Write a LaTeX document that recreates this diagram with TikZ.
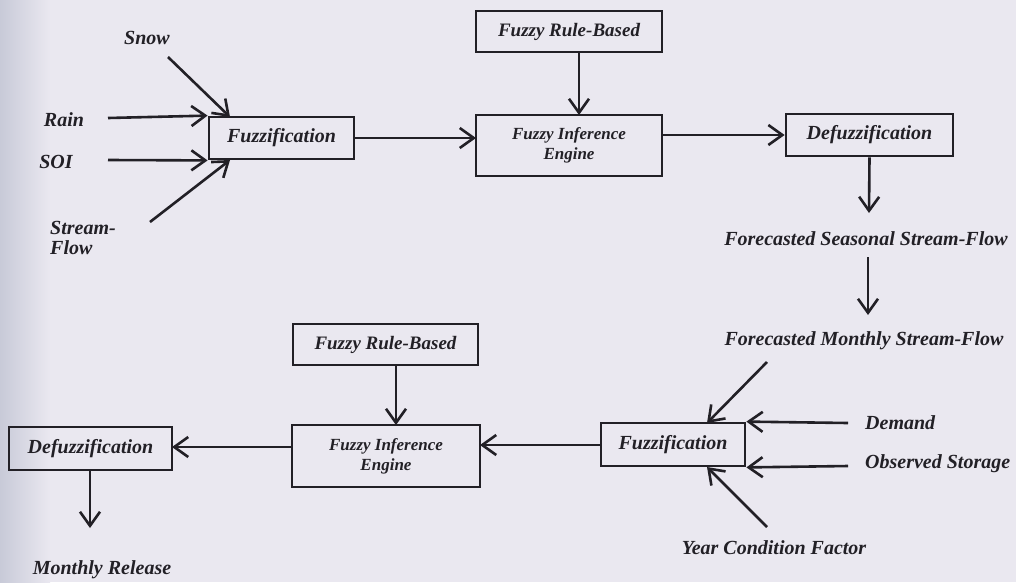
\documentclass[tikz,border=0pt]{standalone}
\usepackage{fontspec}
\setmainfont{Liberation Serif}
\usetikzlibrary{arrows.meta,calc}
\definecolor{bg}{RGB}{234,232,240}
\definecolor{edge}{RGB}{200,202,216}
\definecolor{ink}{RGB}{34,32,38}
\begin{document}
\begin{tikzpicture}[x=1pt,y=-1pt,
  box/.style={draw=ink, line width=2.8pt, inner sep=0pt, text=ink,
    font=\fontsize{20}{22}\selectfont\bfseries\itshape},
  ibox/.style={box, align=center, font=\fontsize{17}{20}\selectfont\bfseries\itshape},
  lab/.style={inner sep=0pt, text=ink, font=\fontsize{20}{22}\selectfont\bfseries\itshape},
  arr/.style={draw=ink, line width=2.6pt,
    -{Straight Barb[length=14pt,width=20pt,line width=2.6pt]}}]
\fill[bg] (0,0) rectangle (1016,582);
\shade[left color=edge, right color=bg] (0,0) rectangle (50,582);
\useasboundingbox (0,0) rectangle (1016,582);

% ---------- upper chain ----------
\node[box, minimum width=145pt, minimum height=42pt] (fuzzA) at (281.5,138) {Fuzzification};
\node[box, minimum width=186pt, minimum height=41pt, font=\fontsize{19}{21}\selectfont\bfseries\itshape] (rulA) at (569,31.5) {Fuzzy Rule-Based};
\node[ibox, minimum width=186pt, minimum height=61pt] (infA) at (569,145.5) {Fuzzy Inference\\Engine};
\node[box, minimum width=167pt, minimum height=42pt] (defA) at (869.5,135) {Defuzzification};

\node[lab] (snow) at (147,38) {Snow};
\node[lab] (rain) at (64,120) {Rain};
\node[lab] (soi) at (56,162) {SOI};
\node[lab, align=left, anchor=west, font=\fontsize{20}{20}\selectfont\bfseries\itshape] (stream) at (50,238) {Stream-\\Flow};
\node[lab] (seas) at (866,239) {Forecasted Seasonal Stream-Flow};
\node[lab] (mon) at (864,341) {Forecasted Monthly Stream-Flow};

\coordinate (snowS) at (168,57);
\coordinate (snowE) at (230,117);
\coordinate (rainS) at (108,118);
\coordinate (soiS) at (108,160);
\coordinate (strS) at (150,222);
\coordinate (strE) at (230,160);
\coordinate (fiA) at (476,138);
\coordinate (frA) at (579,52);
\coordinate (frAe) at (579,115);
\coordinate (ifA) at (662,135);
\coordinate (seasE) at (869,213);
\coordinate (seasS) at (868,257);
\coordinate (monE) at (868,315);

\draw[arr] (snowS) -- (snowE);
\draw[arr] (rainS) -- (fuzzA.north west);
\draw[arr] (soiS) -- (fuzzA.south west);
\draw[arr] (strS) -- (strE);
\draw[arr] (fuzzA.east) -- (fiA);
\draw[arr] (frA) -- (frAe);
\draw[arr] (ifA) -- (defA.west);
\draw[arr] (defA.south) -- (seasE);
\draw[arr] (seasS) -- (monE);

% ---------- lower chain ----------
\node[box, minimum width=144pt, minimum height=43pt] (fuzzB) at (673,444.5) {Fuzzification};
\node[box, minimum width=185pt, minimum height=41pt, font=\fontsize{19}{21}\selectfont\bfseries\itshape] (rulB) at (385.5,344.5) {Fuzzy Rule-Based};
\node[ibox, minimum width=188pt, minimum height=62pt] (infB) at (386,456) {Fuzzy Inference\\Engine};
\node[box, minimum width=163pt, minimum height=43pt] (defB) at (90.5,448.5) {Defuzzification};

\node[lab, anchor=west] (dem) at (865,423) {Demand};
\node[lab, anchor=west] (obs) at (865,464) {Observed Storage};
\node[lab] (year) at (774,548) {Year Condition Factor};
\node[lab] (rel) at (102,570) {Monthly Release};

\coordinate (monS) at (767,362);
\coordinate (monF) at (707,423);
\coordinate (demS) at (848,423);
\coordinate (obsS) at (848,466);
\coordinate (yearS) at (767,527);
\coordinate (yearF) at (707,467);
\coordinate (fzB) at (601,445);
\coordinate (ifB) at (480,445);
\coordinate (frB) at (396,365);
\coordinate (frBe) at (396,425);
\coordinate (ibW) at (292,447);
\coordinate (dbE) at (172,447);
\coordinate (dbS) at (90,470);
\coordinate (relE) at (90,528);

\draw[arr] (monS) -- (monF);
\draw[arr] (demS) -- (fuzzB.north east);
\draw[arr] (obsS) -- (fuzzB.south east);
\draw[arr] (yearS) -- (yearF);
\draw[arr] (fzB) -- (ifB);
\draw[arr] (frB) -- (frBe);
\draw[arr] (ibW) -- (dbE);
\draw[arr] (dbS) -- (relE);
\end{tikzpicture}
\end{document}
